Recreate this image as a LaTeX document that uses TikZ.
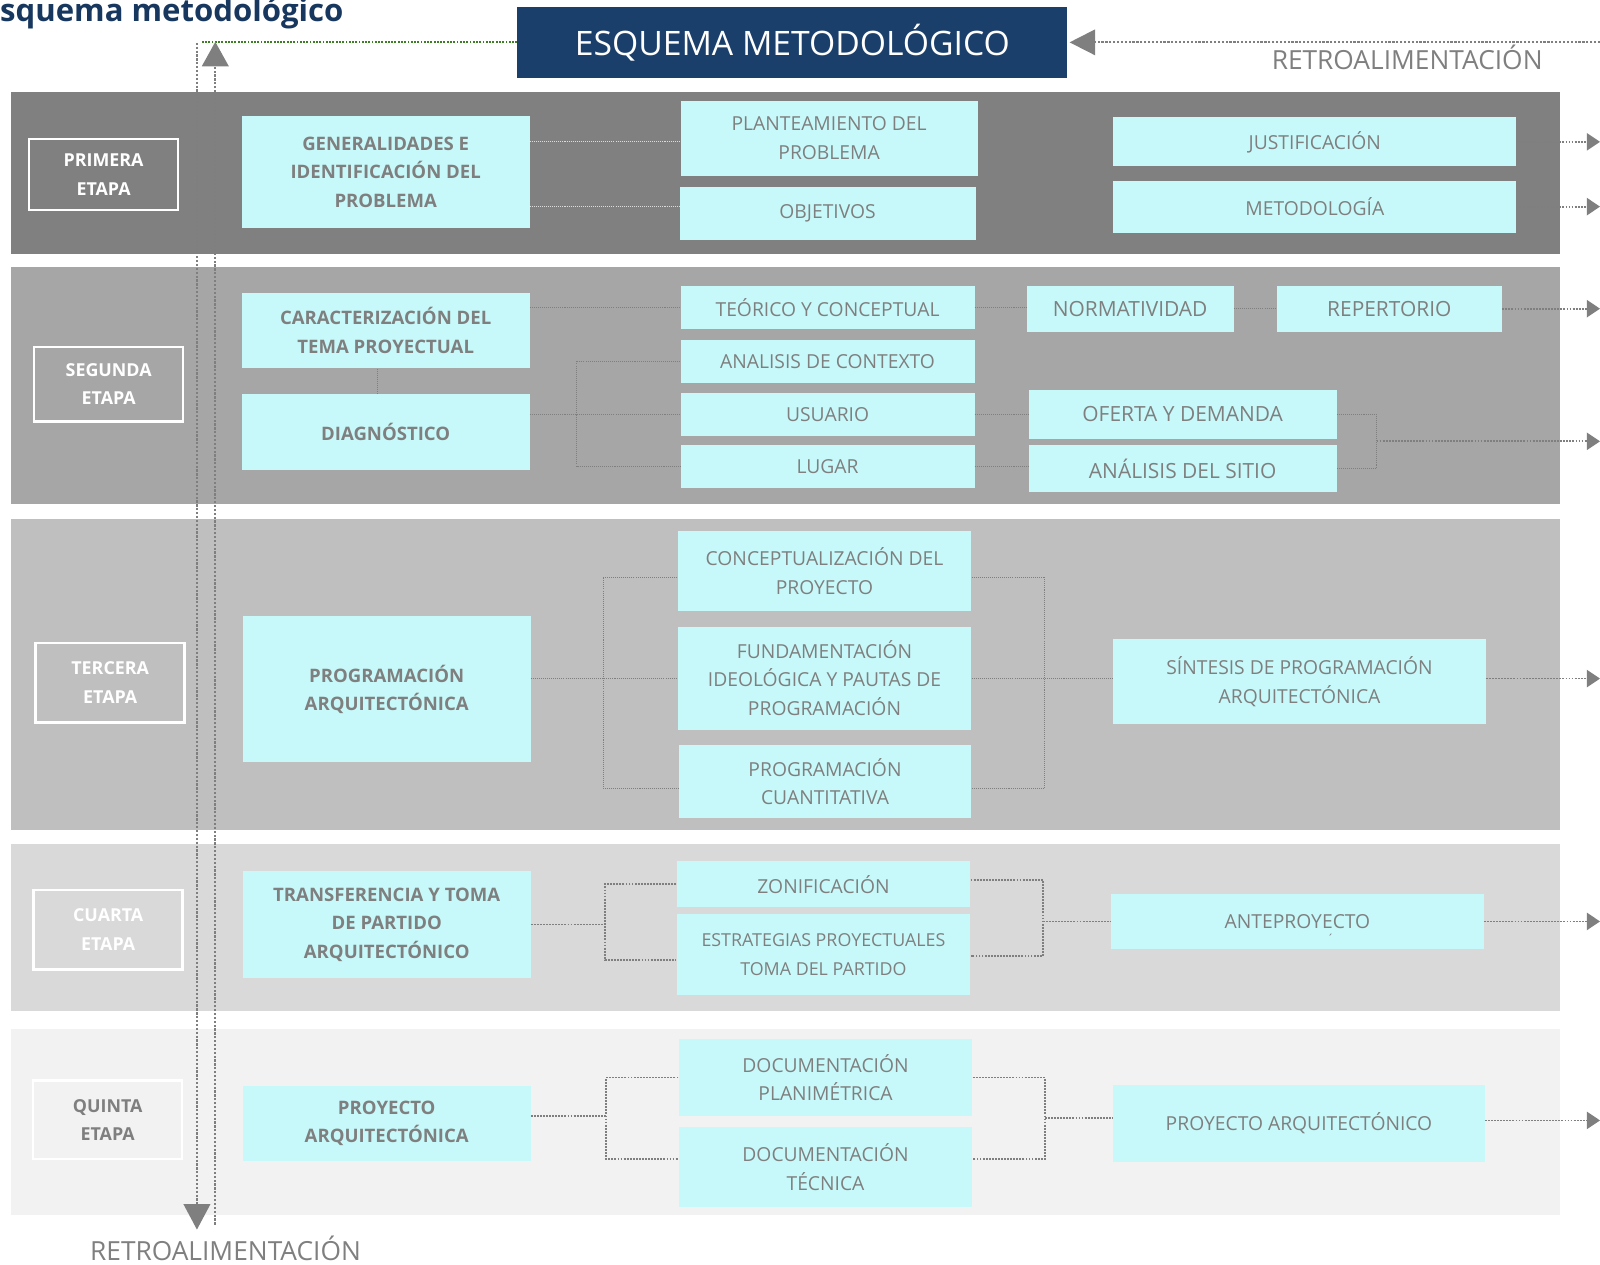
\documentclass[tikz,border=0pt]{standalone}
\usepackage{fontspec}
\setmainfont{Open Sans}
\usetikzlibrary{arrows.meta,calc}
\definecolor{navy}{HTML}{1B3F6B}
\definecolor{headblue}{HTML}{17375E}
\definecolor{cy}{HTML}{C8F9FA}
\definecolor{tg}{HTML}{7F7F7F}
\definecolor{bandA}{HTML}{808080}
\definecolor{bandB}{HTML}{A6A6A6}
\definecolor{bandC}{HTML}{BFBFBF}
\definecolor{bandD}{HTML}{D9D9D9}
\definecolor{bandE}{HTML}{F2F2F2}
\definecolor{fbgreen}{HTML}{3F7F24}
\definecolor{lightlink}{HTML}{DCDCDC}

\begin{document}
\begin{tikzpicture}[x=1pt,y=-1pt,
  cbox/.style={fill=cy, text=tg, align=center, inner sep=0pt,
    font=\fontsize{18.9}{28}\selectfont},
  bigbox/.style={cbox, font=\fontsize{20.5}{28}\selectfont},
  lbox/.style={cbox, font=\bfseries\fontsize{18.2}{28}\selectfont},
  etapa/.style={draw=white, line width=2.5pt, text=white, align=center,
    inner sep=0pt, minimum width=146pt,
    font=\bfseries\fontsize{17.5}{28}\selectfont},
  link/.style={draw=tg, line width=1pt, dash pattern=on 1pt off 1pt},
  linkw/.style={draw=lightlink, line width=1pt, dash pattern=on 1pt off 1pt},
  linkb/.style={draw=tg, line width=1.8pt, dash pattern=on 1.8pt off 1.2pt},
  outarrow/.style={linkb, -{Triangle[width=17pt,length=13pt]}},
  fb/.style={draw=tg, line width=2.2pt, dash pattern=on 2.2pt off 1.6pt},
  retro/.style={text=tg, inner sep=0pt, anchor=base, font=\fontsize{25.8}{28}\selectfont}
]
\useasboundingbox (0,0) rectangle (1568,1239);

% stage bands
\fill[bandA] (11,90) rectangle (1529,249);
\fill[bandB] (11,262) rectangle (1529,494);
\fill[bandC] (11,509) rectangle (1529,813);
\fill[bandD] (11,827) rectangle (1529,991);
\fill[bandE] (11,1008) rectangle (1529,1191);

% heading and title
\node[anchor=base west, inner sep=0pt, text=headblue,
  font=\bfseries\fontsize{30.5}{32}\selectfont] (head) at (0,21) {squema metodológico};
\node[fill=navy, text=white, minimum width=539pt, minimum height=69pt, inner sep=0pt,
  font=\fontsize{33}{36}\selectfont] (title) at (776.5,41.5) {ESQUEMA METODOLÓGICO};

% stage labels
\node[etapa, minimum height=70pt] (e1) at (101.5,171) {PRIMERA\\ETAPA};
\node[etapa, minimum height=73pt] (e2) at (106.5,376.5) {SEGUNDA\\ETAPA};
\node[etapa, minimum height=78pt] (e3) at (108,669) {TERCERA\\ETAPA};
\node[etapa, minimum height=78pt] (e4) at (106,911) {CUARTA\\ETAPA};
\node[etapa, minimum height=77pt, text=tg] (e5) at (105.5,1097.5) {QUINTA\\ETAPA};

% stage 1
\node[lbox, minimum width=282pt, minimum height=109pt] (gen) at (378,168.5) {GENERALIDADES E\\IDENTIFICACIÓN DEL\\PROBLEMA};
\node[cbox, minimum width=291pt, minimum height=73pt] (plan) at (812.5,135.5) {PLANTEAMIENTO DEL\\PROBLEMA};
\node[cbox, minimum width=290pt, minimum height=52pt] (obj) at (811,209) {OBJETIVOS};
\node[cbox, minimum width=395pt, minimum height=48pt] (just) at (1288.5,139) {JUSTIFICACIÓN};
\node[cbox, minimum width=395pt, minimum height=51pt] (metod) at (1288.5,202.5) {METODOLOGÍA};

% stage 2
\node[lbox, minimum width=282pt, minimum height=74pt] (car) at (378,324) {CARACTERIZACIÓN DEL\\TEMA PROYECTUAL};
\node[lbox, minimum width=282pt, minimum height=75pt] (diag) at (378,423.5) {DIAGNÓSTICO};
\node[cbox, minimum width=288pt, minimum height=42pt] (teo) at (811,301) {TEÓRICO Y CONCEPTUAL};
\node[cbox, minimum width=288pt, minimum height=42pt] (ana) at (811,354) {ANALISIS DE CONTEXTO};
\node[cbox, minimum width=288pt, minimum height=42pt] (usu) at (811,406) {USUARIO};
\node[cbox, minimum width=288pt, minimum height=42pt] (lug) at (811,457) {LUGAR};
\node[bigbox, minimum width=203pt, minimum height=45pt] (norm) at (1107.5,302.5) {NORMATIVIDAD};
\node[bigbox, minimum width=221pt, minimum height=45pt] (rep) at (1361.5,302.5) {REPERTORIO};
\node[bigbox, minimum width=302pt, minimum height=48pt] (ofe) at (1159,406) {OFERTA Y DEMANDA};
\node[bigbox, minimum width=302pt, minimum height=46pt] (sit) at (1159,459) {ANÁLISIS DEL SITIO};

% stage 3
\node[lbox, minimum width=282pt, minimum height=143pt] (prog) at (379,675.5) {PROGRAMACIÓN\\ARQUITECTÓNICA};
\node[cbox, minimum width=288pt, minimum height=79pt] (conc) at (808,559.5) {CONCEPTUALIZACIÓN DEL\\PROYECTO};
\node[cbox, minimum width=288pt, minimum height=101pt] (fund) at (808,664.5) {FUNDAMENTACIÓN\\IDEOLÓGICA Y PAUTAS DE\\PROGRAMACIÓN};
\node[cbox, minimum width=287pt, minimum height=72pt] (cuan) at (808.5,766) {PROGRAMACIÓN\\CUANTITATIVA};
\node[cbox, minimum width=365pt, minimum height=84pt] (sint) at (1273.5,668) {SÍNTESIS DE PROGRAMACIÓN\\ARQUITECTÓNICA};

% stage 4
\node[lbox, minimum width=282pt, minimum height=104pt] (trans) at (379,906) {TRANSFERENCIA Y TOMA\\DE PARTIDO\\ARQUITECTÓNICO};
\node[cbox, minimum width=288pt, minimum height=45pt] (zon) at (807,866.5) {ZONIFICACIÓN};
\node[cbox, minimum width=288pt, minimum height=79pt, font=\fontsize{17.5}{28}\selectfont] (estr) at (807,935.5) {ESTRATEGIAS PROYECTUALES\\TOMA DEL PARTIDO};
\node[cbox, minimum width=365pt, minimum height=54pt] (ante) at (1271.5,903) {ANTEPROYECTO};
\node[text=tg, inner sep=0pt, font=\fontsize{12}{12}\selectfont] (anteacc) at (1304,920) {´};

% stage 5
\node[lbox, minimum width=282pt, minimum height=74pt] (proy) at (379,1101) {PROYECTO\\ARQUITECTÓNICA};
\node[cbox, minimum width=288pt, minimum height=76pt] (docp) at (809,1056) {DOCUMENTACIÓN\\PLANIMÉTRICA};
\node[cbox, minimum width=288pt, minimum height=79pt] (doct) at (809,1143.5) {DOCUMENTACIÓN\\TÉCNICA};
\node[cbox, minimum width=364pt, minimum height=76pt] (proya) at (1273,1101) {PROYECTO ARQUITECTÓNICO};

% bracket columns and right margin
\coordinate (xend) at (1568,0);
\coordinate (b2l) at (565,0);
\coordinate (b2r) at (1349,0);
\coordinate (b3l) at (591,0);
\coordinate (b3r) at (1024,0);
\coordinate (b4l) at (593,0);
\coordinate (b4r) at (1022,0);
\coordinate (b5l) at (594,0);
\coordinate (b5r) at (1024,0);

% stage 1 links
\draw[linkw] ($(gen.east |- plan.west)+(0,3)$) -- ($(plan.west)+(0,3)$);
\draw[linkw] ($(gen.east |- obj.west)+(0,-7)$) -- ($(obj.west)+(0,-7)$);
\draw[outarrow] (just.east) -- (just.east -| xend);
\draw[outarrow] (metod.east) -- (metod.east -| xend);

% stage 2 links
\draw[link] (car.east |- teo.west) -- (teo.west);
\draw[link] ($(car.south)+(-8,0)$) -- ($(diag.north)+(-8,0)$);
\draw[link] (diag.east |- usu.west) -- (usu.west);
\draw[link] (ana.west) -- (ana.west -| b2l) -- (lug.west -| b2l) -- (lug.west);
\draw[link] (teo.east) -- (teo.east -| norm.west);
\draw[link] (norm.east) -- (rep.west);
\draw[outarrow] (rep.east) -- (rep.east -| xend);
\draw[link] (usu.east) -- (ofe.west);
\draw[link] (lug.east) -- (lug.east -| sit.west);
\draw[link] (ofe.east) -- (ofe.east -| b2r) -- (sit.east -| b2r) -- (sit.east);
\coordinate (m2) at ($(ofe.east -| b2r)!0.5!(sit.east -| b2r)$);
\draw[outarrow] (m2) -- (m2 -| xend);

% stage 3 links
\draw[link] (prog.east |- fund.west) -- (fund.west);
\draw[link] ($(conc.west)+(0,6)$) -- ($(conc.west -| b3l)+(0,6)$) -- ($(cuan.west -| b3l)+(0,7)$) -- ($(cuan.west)+(0,7)$);
\draw[link] ($(conc.east)+(0,6)$) -- ($(conc.east -| b3r)+(0,6)$) -- ($(cuan.east -| b3r)+(0,7)$) -- ($(cuan.east)+(0,7)$);
\draw[link] (fund.east) -- (sint.west |- fund.east);
\draw[outarrow] ($(sint.east)+(0,-3)$) -- ($(sint.east -| xend)+(0,-3)$);

% stage 4 links
\draw[linkb] (trans.east) -- (trans.east -| b4l);
\draw[linkb] (zon.west) -- (zon.west -| b4l) -- ($(estr.west -| b4l)+(0,5.5)$) -- ($(estr.west)+(0,5.5)$);
\draw[linkb] ($(zon.east)+(0,-4.5)$) -- ($(zon.east -| b4r)+(0,-4.5)$) -- ($(estr.east -| b4r)+(0,1.5)$) -- ($(estr.east)+(0,1.5)$);
\draw[linkb] (ante.west -| b4r) -- (ante.west);
\draw[outarrow] (ante.east) -- (ante.east -| xend);

% stage 5 links
\draw[linkb] ($(proy.east)+(0,-7)$) -- ($(proy.east -| b5l)+(0,-7)$);
\draw[linkb] (docp.west) -- (docp.west -| b5l) -- ($(doct.west -| b5l)+(0,-7.5)$) -- ($(doct.west)+(0,-7.5)$);
\draw[linkb] (docp.east) -- (docp.east -| b5r) -- ($(doct.east -| b5r)+(0,-7.5)$) -- ($(doct.east)+(0,-7.5)$);
\draw[linkb] ($(proya.west -| b5r)+(0,-5)$) -- ($(proya.west)+(0,-5)$);
\draw[outarrow] ($(proya.east)+(0,-3)$) -- ($(proya.east -| xend)+(0,-3)$);

% feedback loop
\coordinate (fbA) at (193,42);
\coordinate (fbAend) at (193,1205);
\coordinate (fbB) at (211,1200);
\coordinate (fbBend) at (211,41);
\draw[draw=fbgreen, line width=1.8pt, dash pattern=on 1.8pt off 1.4pt] (title.west) -- ($(title.west -| fbA)+(5,0)$);
\draw[fb, -{Triangle[width=26pt,length=25pt]}] (fbA) -- (fbAend);
\draw[fb, -{Triangle[width=26pt,length=24pt]}] (fbB) -- (fbBend);
\draw[fb, line width=1.8pt, -{Triangle[width=25pt,length=25pt]}] (title.east -| xend) -- ($(title.east)+(2,0)$);
\node[retro] (retroT) at (1379,68) {RETROALIMENTACIÓN};
\node[retro] (retroB) at (221,1235) {RETROALIMENTACIÓN};
\end{tikzpicture}
\end{document}
